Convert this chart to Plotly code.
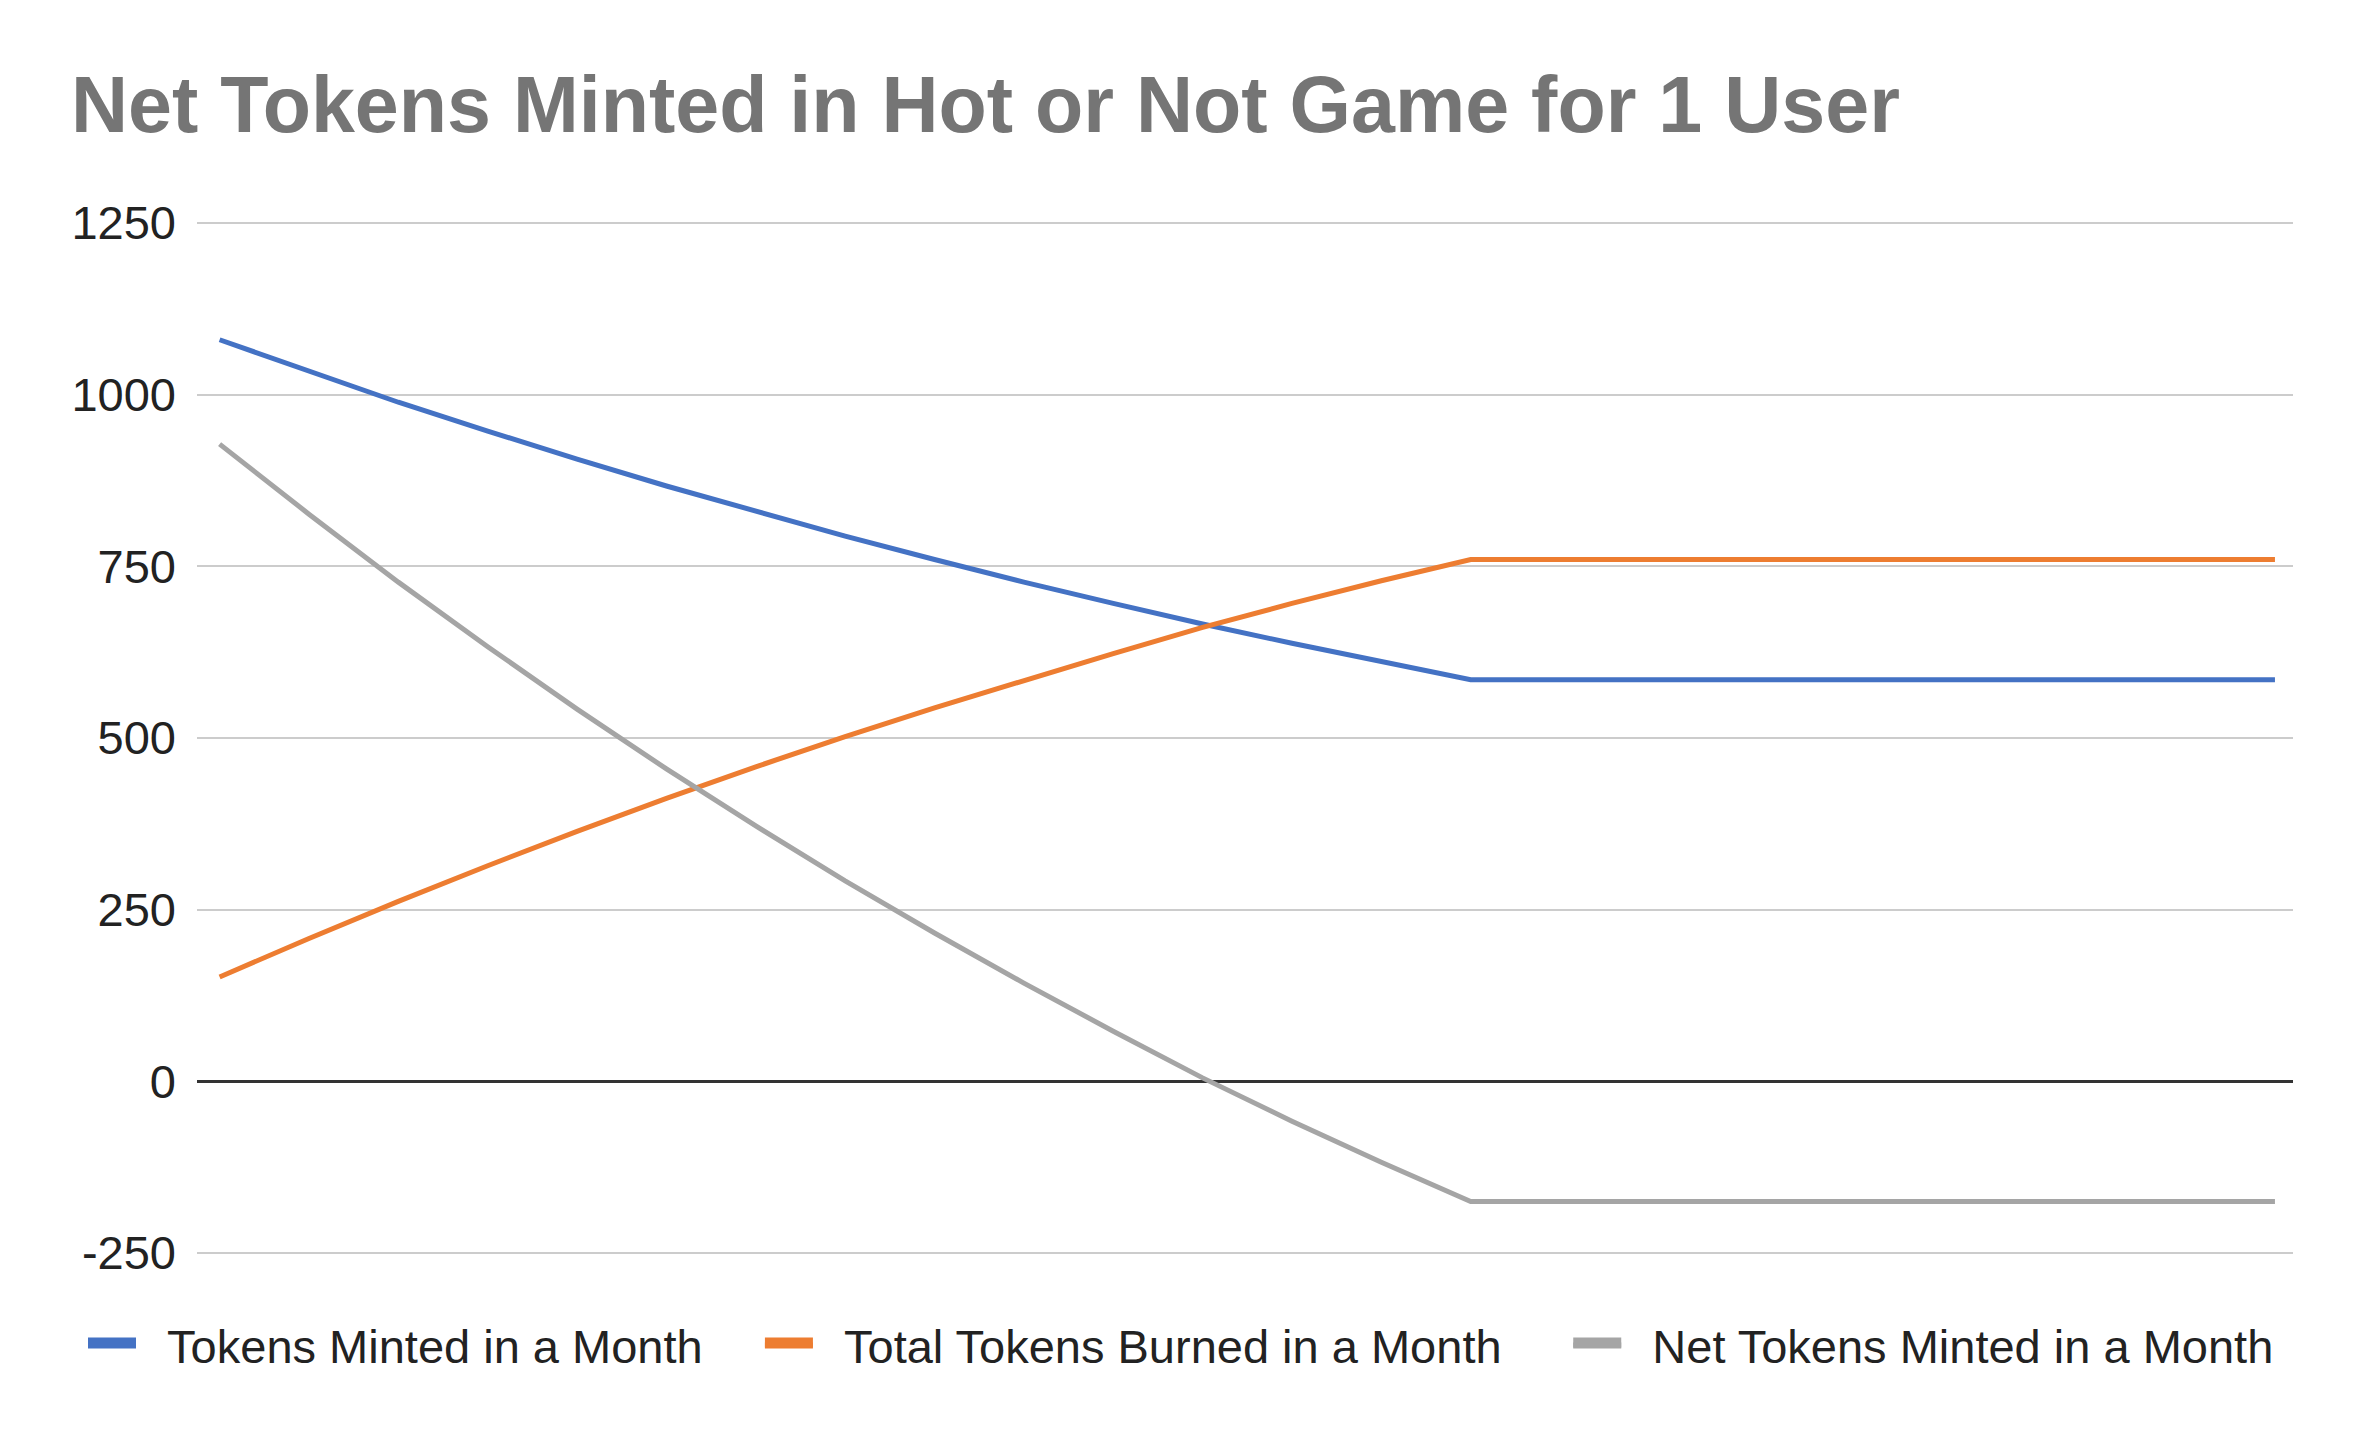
import plotly.graph_objects as go

months = [1, 2, 3, 4, 5, 6, 7, 8, 9, 10, 11, 12,
          13, 14, 15, 16, 17, 18, 19, 20, 21, 22, 23, 24]
minted = [1080, 1034, 989, 947, 906, 867, 830, 794, 760, 727, 696, 666,
          638, 611, 585, 585, 585, 585, 585, 585, 585, 585, 585, 585]
burned = [152, 208, 262, 314, 364, 412, 458, 502, 544, 584, 623, 661,
          696, 729, 760, 760, 760, 760, 760, 760, 760, 760, 760, 760]
net = [928, 826, 727, 633, 542, 455, 372, 292, 216, 143, 73, 5,
       -58, -118, -175, -175, -175, -175, -175, -175, -175, -175, -175, -175]

series_names = ["Tokens Minted in a Month", "Total Tokens Burned in a Month", "Net Tokens Minted in a Month"]
series_values = [minted, burned, net]
series_colors = ["#4472c4", "#ed7d31", "#a5a5a5"]

y_ticks = [-250, 0, 250, 500, 750, 1000, 1250]
y_ticklabels = ["-250", "0", "250", "500", "750", "1000", "1250"]

FONT = "Liberation Sans, Arial, Helvetica, sans-serif"
NB = "\u00a0"
legend_trail = [NB * 4, NB * 4 + "\u2009", ""]

# page has an 8px body margin, so the figure is slightly smaller than the window
W, H = 2356, 1436
ML, MR, MT, MB = 189, 71, 214, 190
plot_w = W - ML - MR
plot_h = H - MT - MB

fig = go.Figure()
for name, vals, col in zip(series_names, series_values, series_colors):
    fig.add_trace(go.Scatter(x=months, y=vals, mode="lines", name=name,
                             line=dict(color=col, width=5), showlegend=False,
                             hoverinfo="x+y+name"))
# legend entries (thick swatches like the original)
for name, col, trail in zip(series_names, series_colors, legend_trail):
    fig.add_trace(go.Scatter(x=[None], y=[None], mode="lines", name=NB * 2 + name + trail,
                             line=dict(color=col, width=10), fill="toself", fillcolor=col,
                             showlegend=True))

fig.update_layout(
    width=W, height=H,
    paper_bgcolor="white", plot_bgcolor="white",
    margin=dict(l=ML, r=MR, t=MT, b=MB, autoexpand=False),
    title=dict(text="<b>Net Tokens Minted in Hot or Not Game for 1 User</b>",
               font=dict(family=FONT, size=79, color="#757575"),
               x=63 / W, xanchor="left", xref="container",
               y=1 - 96 / H, yanchor="middle", yref="container"),
    xaxis=dict(range=[0.747, 24.202], showgrid=False, zeroline=False,
               showticklabels=False, showline=False, ticks=""),
    yaxis=dict(range=[-251.5, 1251.5], tickvals=y_ticks, ticktext=y_ticklabels,
               showgrid=True, gridcolor="#cccccc", gridwidth=2,
               zeroline=True, zerolinecolor="#333333", zerolinewidth=3,
               showline=False, ticks="", ticklabelstandoff=20,
               tickfont=dict(family=FONT, size=47, color="#222222")),
    legend=dict(orientation="h", xref="paper", yref="paper",
                x=(75 - ML) / plot_w, xanchor="left",
                y=((H - MB) - 1337) / plot_h, yanchor="middle",
                font=dict(family=FONT, size=47, color="#222222"),
                itemwidth=48, bgcolor="rgba(0,0,0,0)", tracegroupgap=0),
    showlegend=True,
)

fig.write_html("out.html")
